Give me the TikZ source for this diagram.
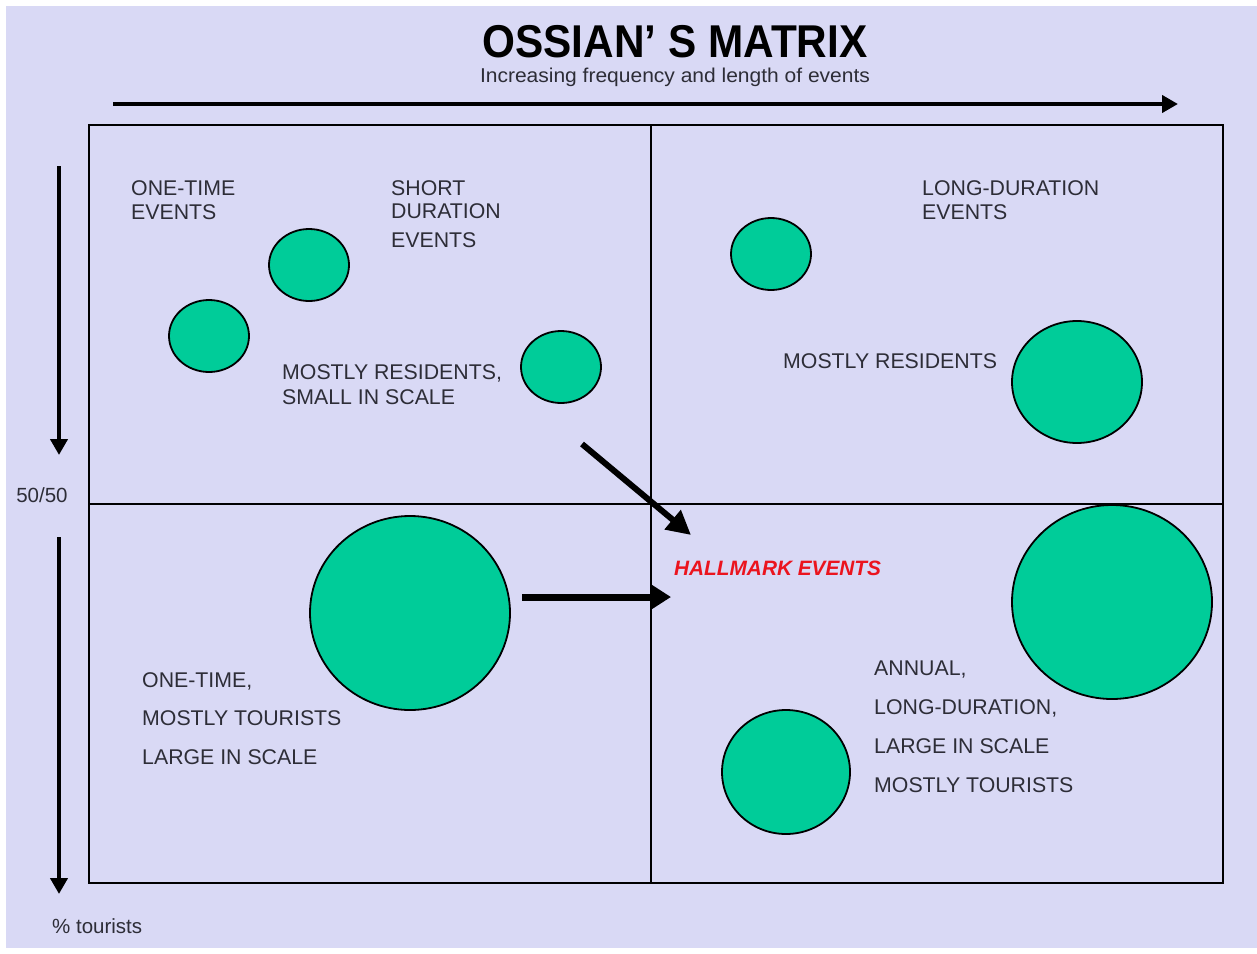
\documentclass[tikz,border=0pt]{standalone}
\usepackage{fontspec}
\setmainfont{Liberation Sans}
\usetikzlibrary{arrows.meta}
\definecolor{bgcol}{RGB}{217,217,245}
\definecolor{blob}{RGB}{0,204,153}
\definecolor{txt}{RGB}{45,45,55}
\definecolor{hall}{RGB}{235,20,30}
\tikzset{
  lbl/.style={anchor=base west, inner sep=0pt, text=txt, font=\fontsize{21.3}{21.3}\selectfont},
  blobby/.style={ellipse, draw=black, line width=1.8pt, fill=blob, inner sep=0pt},
  axisarrow/.style={line width=4.5pt, -{Triangle[length=16pt,width=17pt]}},
  grid/.style={line width=2pt, draw=black}
}
\usetikzlibrary{shapes.geometric}
\begin{document}
\begin{tikzpicture}[x=1pt,y=-1pt]
\useasboundingbox (0,0) rectangle (1257,953);
\fill[white] (0,0) rectangle (1257,953);
\fill[bgcol] (6,6) rectangle (1257,948);
% title
\node[inner sep=0pt, anchor=base, font=\bfseries\fontsize{46}{46}\selectfont, xscale=0.92] (title) at (675,57) {OSSIAN’ S MATRIX};
\node[inner sep=0pt, anchor=base, text=txt, font=\fontsize{20}{20}\selectfont, xscale=1.05] (sub) at (675,82) {Increasing frequency and length of events};
% axis arrows
\coordinate (hA) at (113,104); \coordinate (hB) at (1178,104);
\draw[axisarrow] (hA) -- (hB);
\coordinate (vA) at (59,166); \coordinate (vB) at (59,455);
\draw[axisarrow] (vA) -- (vB);
\coordinate (vC) at (59,537); \coordinate (vD) at (59,894);
\draw[axisarrow] (vC) -- (vD);
\node[inner sep=0pt, anchor=base, text=txt, font=\fontsize{20.5}{20.5}\selectfont] (fifty) at (42,502) {50/50};
\node[inner sep=0pt, anchor=base west, text=txt, font=\fontsize{20.5}{20.5}\selectfont] (tour) at (52,933) {\% tourists};
% matrix
\draw[grid] (89,125) rectangle (1223,883);
\coordinate (mT) at (651,125); \coordinate (mB) at (651,883);
\coordinate (mL) at (89,504); \coordinate (mR) at (1223,504);
\draw[grid] (mT) -- (mB);
\draw[grid] (mL) -- (mR);
% blobs
\node[blobby, minimum width=80pt, minimum height=72pt] (c1) at (309,265) {};
\node[blobby, minimum width=80pt, minimum height=72pt] (c2) at (209,336) {};
\node[blobby, minimum width=80pt, minimum height=72pt] (c3) at (561,367) {};
\node[blobby, minimum width=80pt, minimum height=72pt] (c4) at (771,254) {};
\node[blobby, minimum width=130pt, minimum height=122pt] (c5) at (1077,382) {};
\node[blobby, minimum width=200pt, minimum height=194pt] (c6) at (410,613) {};
\node[blobby, minimum width=200pt, minimum height=194pt] (c7) at (1112,602) {};
\node[blobby, minimum width=128pt, minimum height=124pt] (c8) at (786,772) {};
% labels
\node[lbl] (t1a) at (131,195.5) {ONE-TIME};
\node[lbl] (t1b) at (131,219.5) {EVENTS};
\node[lbl] (t2a) at (391,195.5) {SHORT};
\node[lbl] (t2b) at (391,218.5) {DURATION};
\node[lbl] (t2c) at (391,247.5) {EVENTS};
\node[lbl] (t3a) at (282,379.5) {MOSTLY RESIDENTS,};
\node[lbl] (t3b) at (282,404.5) {SMALL IN SCALE};
\node[lbl] (t4a) at (922,195.5) {LONG-DURATION};
\node[lbl] (t4b) at (922,219.5) {EVENTS};
\node[lbl] (t5) at (783,368.5) {MOSTLY RESIDENTS};
\node[lbl] (t6a) at (142,687.5) {ONE-TIME,};
\node[lbl] (t6b) at (142,725.5) {MOSTLY TOURISTS};
\node[lbl] (t6c) at (142,764.5) {LARGE IN SCALE};
\node[lbl] (t7a) at (874,675.5) {ANNUAL,};
\node[lbl] (t7b) at (874,714.5) {LONG-DURATION,};
\node[lbl] (t7c) at (874,753.5) {LARGE IN SCALE};
\node[lbl] (t7d) at (874,792.5) {MOSTLY TOURISTS};
\node[inner sep=0pt, anchor=base west, text=hall, font=\bfseries\itshape\fontsize{20.8}{20.8}\selectfont] (hm) at (674,575) {HALLMARK EVENTS};
% movement arrows
\coordinate (dA) at (582,444); \coordinate (dB) at (691,535);
\draw[line width=6pt, -{Triangle[length=24pt,width=24pt]}] (dA) -- (dB);
\coordinate (eA) at (522,597); \coordinate (eB) at (671,597);
\draw[line width=7pt, -{Triangle[length=20pt,width=24pt]}] (eA) -- (eB);
\end{tikzpicture}
\end{document}
